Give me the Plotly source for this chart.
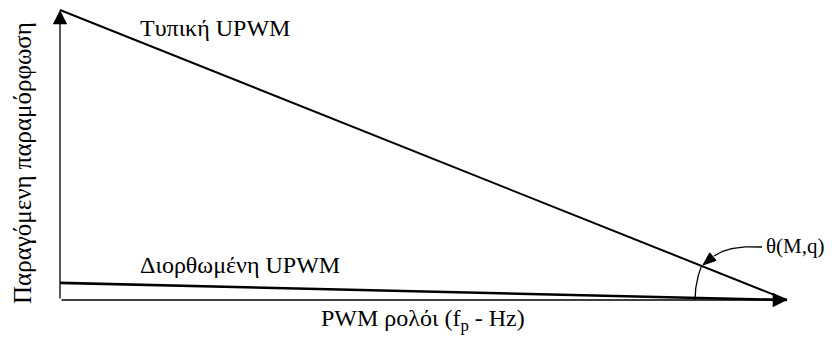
import numpy as np
import plotly.graph_objects as go

# ---- data (arbitrary units, qualitative chart) ----
freq = [0, 100]
typical = [100, 0]
corrected = [5.9, 0]
label_typical = "Τυπική UPWM"
label_corrected = "Διορθωμένη UPWM"
x_title = "PWM ρολόι (f<sub>p</sub> - Hz)"
y_title = "Παραγόμενη παραμόρφωση"
angle_label = "θ(M,q)"

# ---- pixel mapping (page body has an 8px margin) ----
OFF = 8
W, H = 835 - OFF, 337 - OFF
X0, X1 = 60, 787      # window pixels of x=0 and x=100
Y0, Y1 = 300, 10      # window pixels of y=0 and y=100
sx = (X1 - X0) / 100.0
sy = (Y0 - Y1) / 100.0
xr = [(OFF - X0) / sx, (OFF + W - X0) / sx]
yr = [(Y0 - (OFF + H)) / sy, (Y0 - OFF) / sy]


def d(px, py):
    return (px - X0) / sx, (Y0 - py) / sy


FAMILY = "Liberation Serif, Times New Roman, serif"

fig = go.Figure()

fig.add_trace(go.Scatter(x=freq, y=typical, mode="lines",
                         line=dict(color="black", width=2), hoverinfo="skip"))
fig.add_trace(go.Scatter(x=freq, y=corrected, mode="lines",
                         line=dict(color="black", width=2.6), hoverinfo="skip"))

# angle arc centred at the meeting point
cx, cy = X0 + freq[1] * sx, Y0 - typical[1] * sy
theta = np.arctan(((typical[0] - typical[1]) * sy) / ((freq[1] - freq[0]) * sx))
r = 92
t = np.linspace(0, theta, 40)
ax_, ay_ = zip(*[d(cx - r * np.cos(a), cy - r * np.sin(a)) for a in t])
fig.add_trace(go.Scatter(x=ax_, y=ay_, mode="lines",
                         line=dict(color="black", width=1.3), hoverinfo="skip"))

# curved pointer from the label
p0, p1, p2 = np.array([762, 247]), np.array([730, 245]), np.array([714, 256])
s = np.linspace(0, 1, 30)
pts = [(1 - u) ** 2 * p0 + 2 * (1 - u) * u * p1 + u ** 2 * p2 for u in s]
bx, by = zip(*[d(p[0], p[1]) for p in pts])
fig.add_trace(go.Scatter(x=bx, y=by, mode="lines",
                         line=dict(color="black", width=1.3), hoverinfo="skip"))

# filled arrowhead at the end of the pointer
tip = np.array([703.0, 265.0])
dirv = tip - np.array([716.0, 254.0])
dirv /= np.linalg.norm(dirv)
nrm = np.array([-dirv[1], dirv[0]])
base = tip - dirv * 13
tri = [tip, base + nrm * 5, base - nrm * 5, tip]
hx, hy = zip(*[d(p[0], p[1]) for p in tri])
fig.add_trace(go.Scatter(x=hx, y=hy, mode="lines", fill="toself", fillcolor="black",
                         line=dict(color="black", width=1), hoverinfo="skip"))

ann = []
# axes with arrowheads
ann.append(dict(x=freq[1], y=0, ax=freq[0], ay=0, xref="x", yref="y", axref="x", ayref="y",
                showarrow=True, arrowhead=2, arrowsize=2.2, arrowwidth=1.3, arrowcolor="black",
                text="", standoff=0))
ann.append(dict(x=0, y=typical[0], ax=0, ay=0, xref="x", yref="y", axref="x", ayref="y",
                showarrow=True, arrowhead=2, arrowsize=2.2, arrowwidth=1.3, arrowcolor="black",
                text="", standoff=0))

def txt(s, px, py, size, anchor="center", angle=0):
    x, y = d(px, py)
    return dict(x=x, y=y, xref="x", yref="y", text=s, showarrow=False,
                font=dict(family=FAMILY, size=size, color="black"),
                xanchor=anchor, yanchor="middle", textangle=angle)

ann.append(txt(label_typical, 215, 28, 24))
ann.append(txt(label_corrected, 240, 265, 24))
ann.append(txt(x_title, 423, 320, 24))
ann.append(txt(y_title, 22, 163, 25, angle=-90))
ann.append(txt(angle_label, 795, 246, 21))

fig.update_layout(
    width=W, height=H, margin=dict(l=0, r=0, t=0, b=0),
    paper_bgcolor="white", plot_bgcolor="white", showlegend=False,
    font=dict(family=FAMILY, color="black"),
    xaxis=dict(range=xr, visible=False, fixedrange=True),
    yaxis=dict(range=yr, visible=False, fixedrange=True),
    annotations=ann,
)

fig.write_html("out.html", config={"displayModeBar": False})
